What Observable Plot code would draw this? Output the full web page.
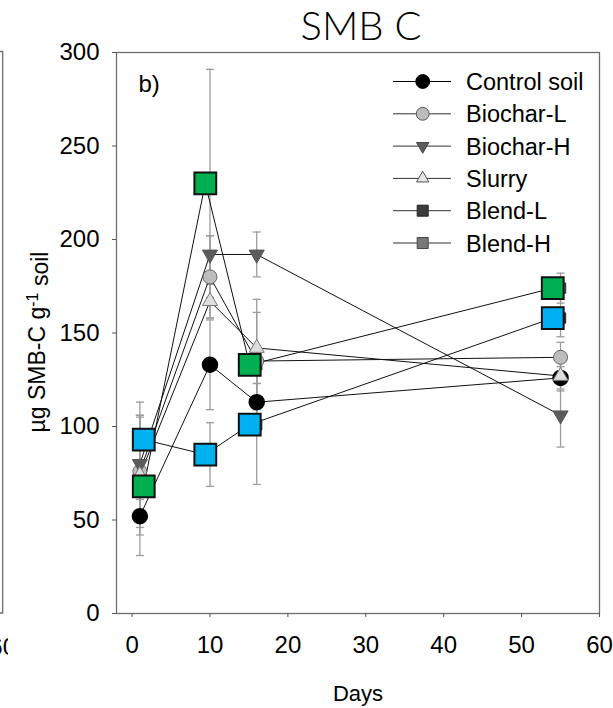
<!DOCTYPE html>
<html>
<head>
<meta charset="utf-8">
<script src="https://cdn.jsdelivr.net/npm/d3@7"></script>
<script src="https://cdn.jsdelivr.net/npm/@observablehq/plot@0.6"></script>
<style>
  html, body { margin: 0; padding: 0; background: #fff; }
  #fig { position: relative; width: 613px; height: 708px; font-family: "Liberation Sans", Arial, sans-serif; }
  #fig svg.overlay { position: absolute; left: 0; top: 0; pointer-events: none; }
</style>
</head>
<body>
<div id="fig"></div>
<script>
// Sampling days and measured soil microbial biomass C (µg SMB-C g-1 soil)
const days = [1, 10, 16, 55];
const blendDays = [1.5, 9.4, 15.1, 54]; // highlighted blend squares sit slightly off the sampling day
const seriesNames = ["Control soil", "Biochar-L", "Biochar-H", "Slurry", "Blend-L", "Blend-H"];

const control  = [52, 133, 113, 126];
const biocharL = [76, 180, 135, 137];
const biocharH = [80, 192, 192, 106];
const slurry   = [74, 167, 142, 127];
const blendL   = [93, 85, 101, 158];
const blendH   = [68, 230, 133, 174];

// Standard errors
const controlErr  = [21, 24, 10, 6];
const biocharLErr = [30, 22, 26, 8];
const biocharHErr = [25, 10, 12, 17];
const slurryErr   = [32, 9, 26, 8];
const blendLErr   = [20, 17, 32, 10];
const blendHErr   = [7, 61, 10, 8];

const xTicks = [0, 10, 20, 30, 40, 50, 60];
const yTicks = [0, 50, 100, 150, 200, 250, 300];

const values = [control, biocharL, biocharH, slurry, blendL, blendH];
const errs = [controlErr, biocharLErr, biocharHErr, slurryErr, blendLErr, blendHErr];

const rows = [];
seriesNames.forEach((s, i) => {
  const isBlend = s.startsWith("Blend");
  days.forEach((d, j) => {
    rows.push({series: s, day: d, px: isBlend ? blendDays[j] : d, value: values[i][j], err: errs[i][j]});
  });
});
const bySeries = s => rows.filter(r => r.series === s);
const blendRows = rows.filter(r => r.series.startsWith("Blend"));

// Custom marker shapes
const triangleDown = {
  draw(ctx, size) {
    const y = -Math.sqrt(size / (Math.sqrt(3) * 3));
    ctx.moveTo(0, -2 * y);
    ctx.lineTo(-Math.sqrt(3) * y, y);
    ctx.lineTo(Math.sqrt(3) * y, y);
    ctx.closePath();
  }
};
const cap = {
  draw(ctx, size) {
    const w = Math.sqrt(size / Math.PI);
    ctx.moveTo(-w, 0);
    ctx.lineTo(w, 0);
  }
};

const errColor = "#9c9c9c";
const highlight = {"Blend-L": "#00b0f0", "Blend-H": "#00b050"};
const plainBlend = {"Blend-L": "#3c3c3c", "Blend-H": "#787878"};

const chart = Plot.plot({
  width: 613,
  height: 708,
  marginTop: 52,
  marginLeft: 116,
  marginRight: 14,
  marginBottom: 95,
  style: {fontFamily: "'Liberation Sans', Arial, sans-serif", fontSize: "24px", background: "transparent", color: "#000"},
  x: {domain: [-2, 60]},
  y: {domain: [0, 300]},
  marks: [
    Plot.frame({stroke: "#6e6e6e", strokeWidth: 1.3}),
    Plot.axisX({ticks: xTicks, tickSize: 4, tickPadding: 18, label: null, stroke: "#555", fontSize: 24}),
    Plot.axisY({ticks: yTicks, tickSize: 4, tickPadding: 13, label: null, stroke: "#555", fontSize: 24}),

    // error bars
    Plot.ruleX(rows, {x: "day", y1: d => d.value - d.err, y2: d => d.value + d.err, stroke: errColor, strokeWidth: 1.3}),
    Plot.dot(rows, {x: "day", y: d => d.value + d.err, symbol: cap, r: 4, fill: "none", stroke: errColor, strokeWidth: 1.3}),
    Plot.dot(rows, {x: "day", y: d => d.value - d.err, symbol: cap, r: 4, fill: "none", stroke: errColor, strokeWidth: 1.3}),

    // connecting lines
    Plot.line(rows, {x: "px", y: "value", z: "series", stroke: "#111", strokeWidth: 1}),

    // blend squares in grey, partly covered by the highlighted ones
    Plot.dot(blendRows, {x: "day", y: "value", symbol: "square", r: 5.8, fill: d => plainBlend[d.series], stroke: "#222", strokeWidth: 1}),

    Plot.dot(bySeries("Control soil"), {x: "day", y: "value", symbol: "circle", r: 7.5, fill: "#000", stroke: "#000"}),
    Plot.dot(bySeries("Biochar-L"), {x: "day", y: "value", symbol: "circle", r: 7, fill: "#bdbdbd", stroke: "#666", strokeWidth: 1}),
    Plot.dot(bySeries("Biochar-H"), {x: "day", y: "value", symbol: triangleDown, r: 5.6, fill: "#5c5c5c", stroke: "#555", strokeWidth: 1}),
    Plot.dot(bySeries("Slurry"), {x: "day", y: "value", symbol: "triangle", r: 5.6, fill: "#dedede", stroke: "#777", strokeWidth: 1}),

    Plot.dot(blendRows, {x: "px", y: "value", symbol: "square", r: 12.3, fill: d => highlight[d.series], stroke: "#111", strokeWidth: 2}),

    // titles and labels
    Plot.text(["SMB C"], {frameAnchor: "top", dx: 3, dy: -13, lineAnchor: "bottom", fontSize: 40, fontWeight: 300, fontFamily: "Lato, 'Open Sans', sans-serif"}),
    Plot.text(["b)"], {frameAnchor: "top-left", dx: 22, dy: 22, textAnchor: "start", lineAnchor: "top", fontSize: 24}),
    Plot.text(["Days"], {frameAnchor: "bottom", dy: 87, fontSize: 22})
  ]
});

const fig = document.getElementById("fig");
fig.appendChild(chart);

// overlay: y-axis title, legend and the edge of the neighbouring panel
const ov = d3.select(fig).append("svg").attr("class", "overlay")
  .attr("width", 613).attr("height", 708)
  .attr("font-family", "'Liberation Sans', Arial, sans-serif");

// y-axis title with superscript exponent
const yl = ov.append("text").attr("transform", "translate(45,342) rotate(-90)")
  .attr("text-anchor", "middle").attr("font-size", 23);
yl.append("tspan").text("µg SMB-C g");
yl.append("tspan").attr("dy", "-0.45em").attr("font-size", 16).text("-1");
yl.append("tspan").attr("dy", "0.45em").text(" soil");

// neighbouring panel edge
ov.append("clipPath").attr("id", "edgeclip").append("rect").attr("x", 0).attr("y", 0).attr("width", 8).attr("height", 708);
const edge = ov.append("g").attr("clip-path", "url(#edgeclip)");
edge.append("path").attr("d", "M0,51.5H2.7V613H0").attr("fill", "none").attr("stroke", "#6e6e6e").attr("stroke-width", 1.3);
edge.append("text").attr("x", 2.7).attr("y", 655).attr("text-anchor", "middle").attr("font-size", 24).text("60");

// legend
const legendStyles = [
  {type: d3.symbolCircle, size: 150, fill: "#000", stroke: "#000"},
  {type: d3.symbolCircle, size: 130, fill: "#bdbdbd", stroke: "#555"},
  {type: triangleDown, size: 66, fill: "#5c5c5c", stroke: "#444"},
  {type: d3.symbolTriangle, size: 66, fill: "#e6e6e6", stroke: "#555"},
  {type: d3.symbolSquare, size: 121, fill: "#3c3c3c", stroke: "#222"},
  {type: d3.symbolSquare, size: 121, fill: "#787878", stroke: "#444"}
];
const lg = ov.append("g");
seriesNames.forEach((name, i) => {
  const y = 81.5 + i * 32.3;
  const st = legendStyles[i];
  lg.append("line").attr("x1", 393).attr("x2", 451).attr("y1", y).attr("y2", y).attr("stroke", i === 0 ? "#000" : "#333").attr("stroke-width", 1);
  lg.append("path").attr("transform", `translate(422.7,${y})`).attr("d", d3.symbol(st.type, st.size)())
    .attr("fill", st.fill).attr("stroke", st.stroke).attr("stroke-width", 1);
  lg.append("text").attr("x", 466).attr("y", y + 8.5).attr("font-size", 23.5).text(name);
});
</script>
</body>
</html>
